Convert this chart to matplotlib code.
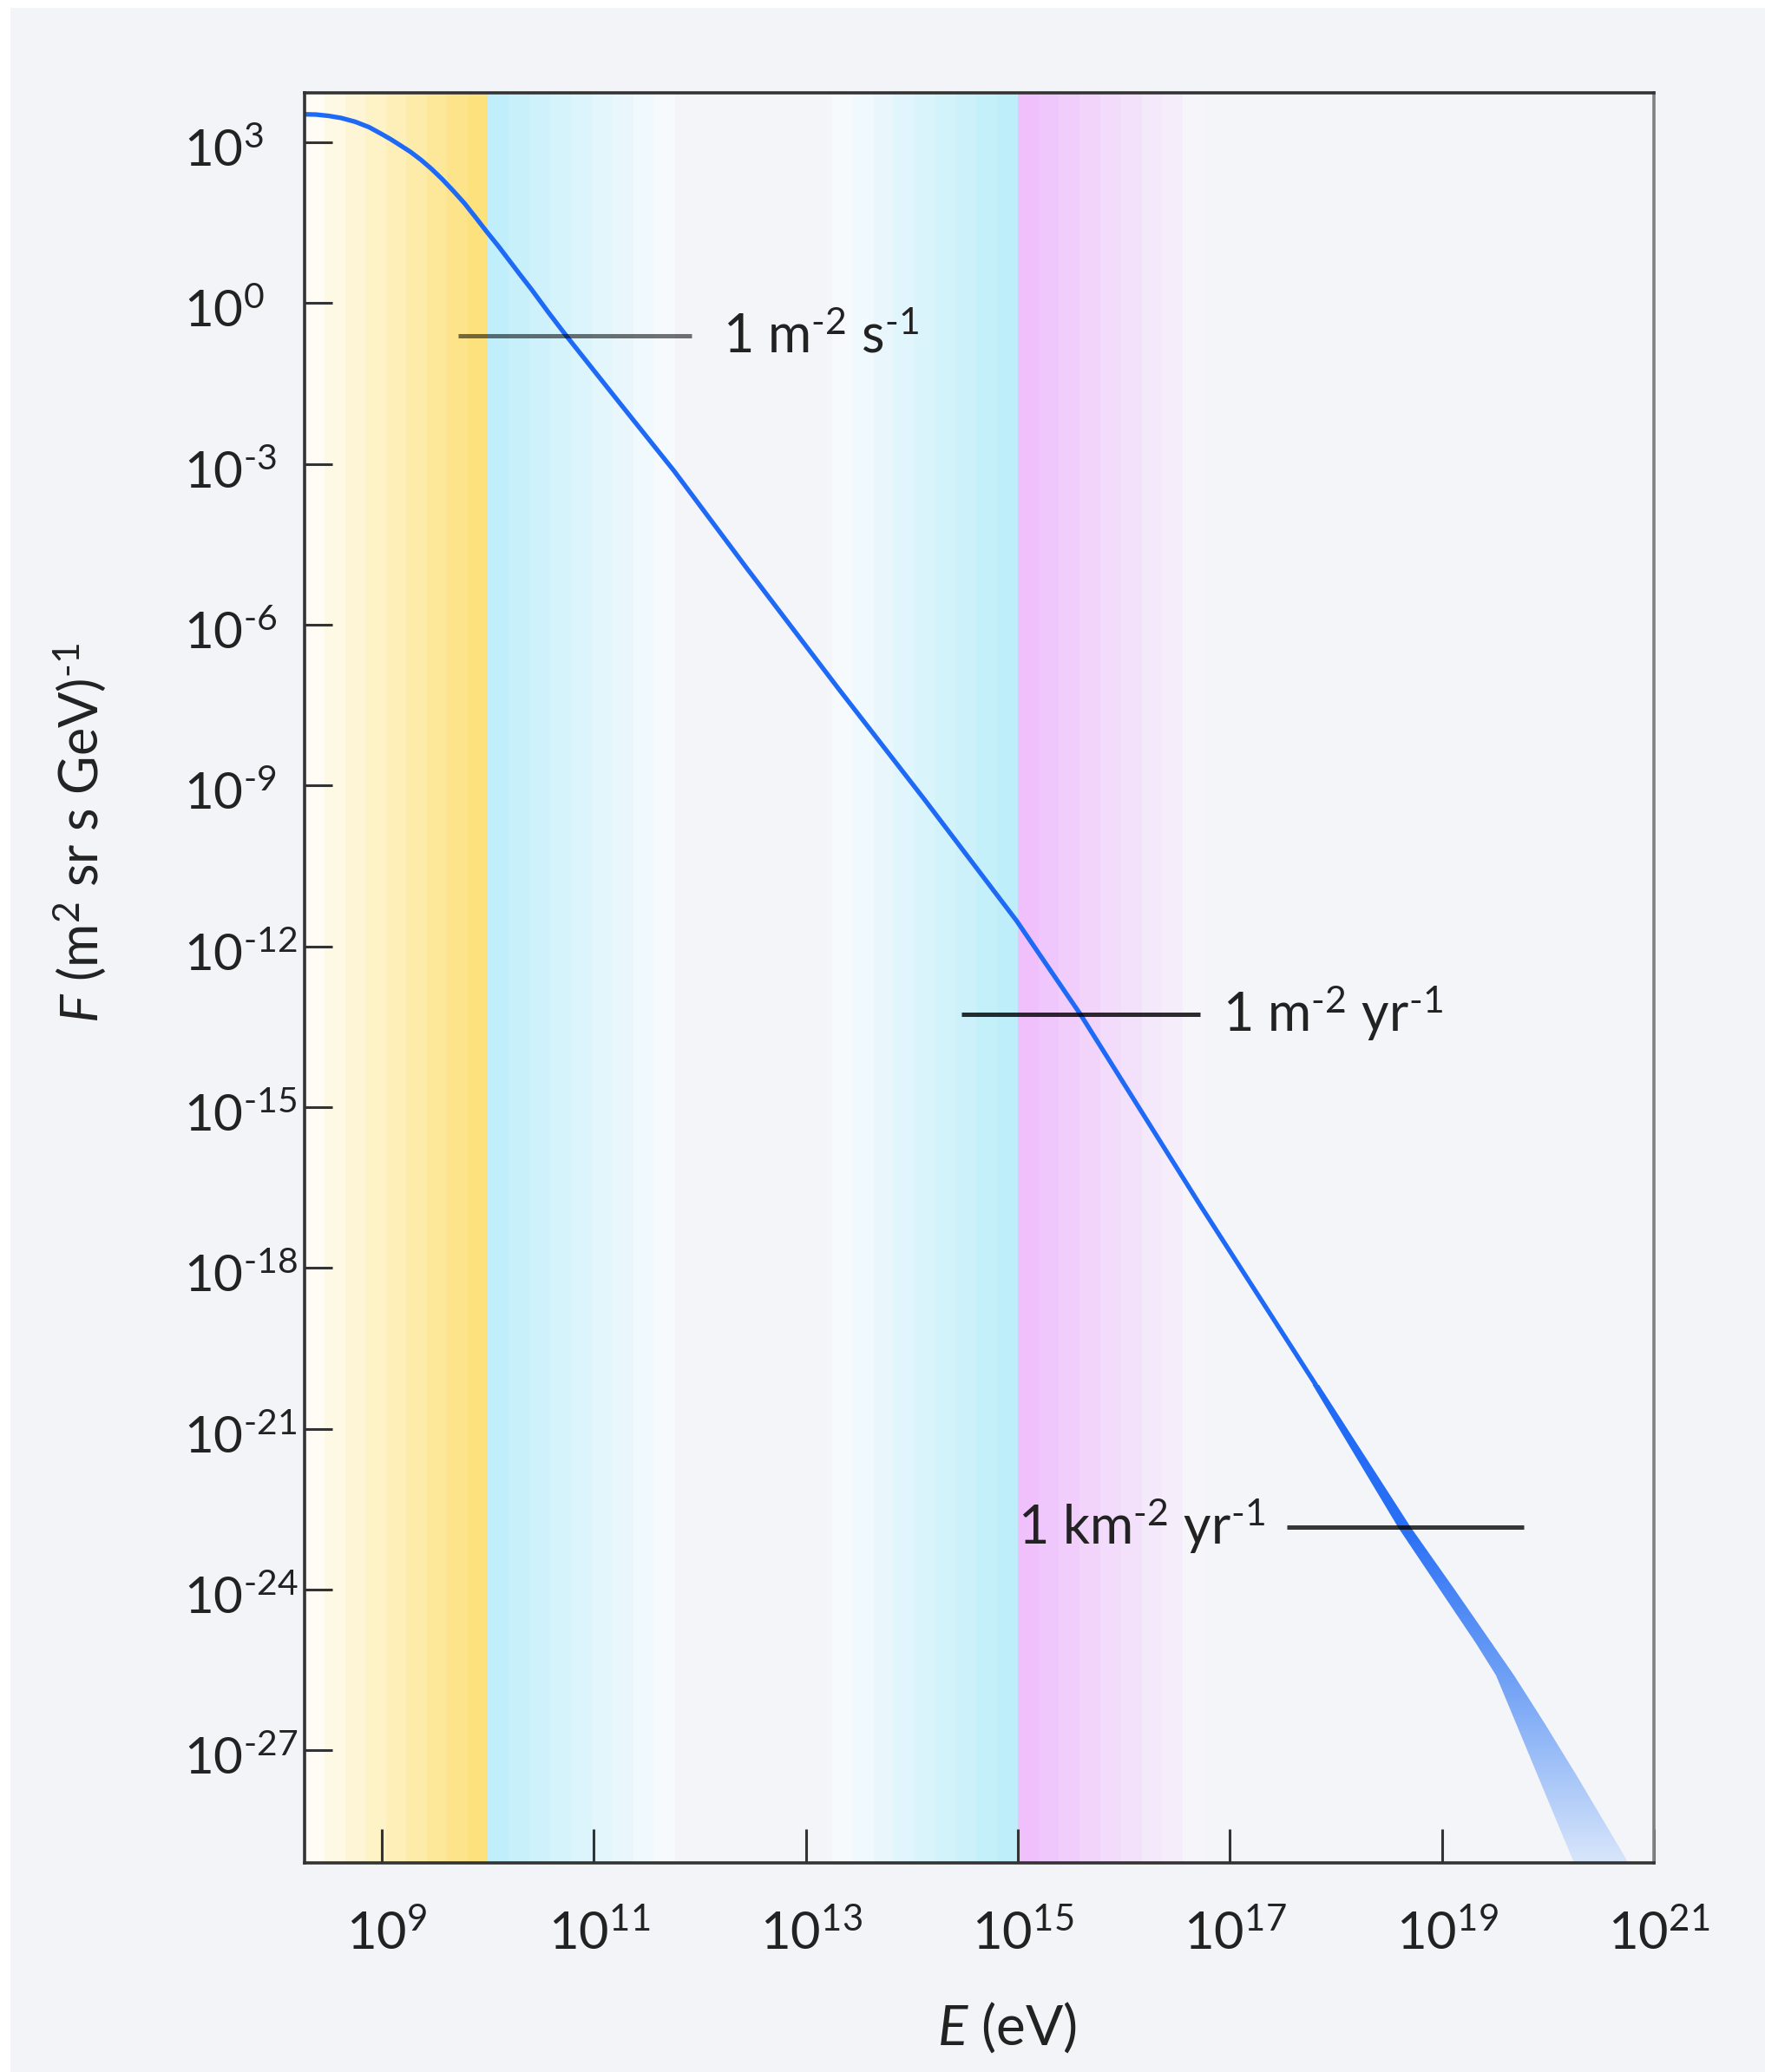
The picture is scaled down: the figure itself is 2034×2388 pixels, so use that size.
import numpy as np
import matplotlib
matplotlib.use("Agg")
import matplotlib.pyplot as plt
from matplotlib.colors import LinearSegmentedColormap, to_rgb
from matplotlib.patches import Polygon, Rectangle
from matplotlib.ticker import NullLocator
from matplotlib.transforms import offset_copy

plt.rcParams['font.family'] = ['Lato', 'DejaVu Sans']
plt.rcParams['mathtext.fontset'] = 'custom'
plt.rcParams['mathtext.rm'] = 'Lato'
plt.rcParams['mathtext.it'] = 'Lato:italic'
plt.rcParams['mathtext.bf'] = 'Lato:bold'

HY = '\u2010'  # short hyphen for the superscripts (mathtext turns '-' into a wide minus)

# cosmic-ray flux spectrum (log10 E in eV, log10 F)
log_E = [8.27, 8.38, 8.5, 8.62, 8.75, 8.88, 9.0, 9.08, 9.16, 9.27, 9.37, 9.47, 9.57,
         9.68, 9.78, 9.88, 9.99, 10.1, 10.2, 10.3, 10.41, 10.57, 10.74,
         11.25, 11.76, 12.44, 13.31, 14.13, 14.99, 15.59, 16.72, 17.81]
log_F = [3.52, 3.515, 3.49, 3.45, 3.38, 3.28, 3.15, 3.06, 2.96, 2.82, 2.67, 2.50, 2.31,
         2.08, 1.86, 1.61, 1.33, 1.06, 0.80, 0.54, 0.26, -0.17, -0.61,
         -1.88, -3.14, -4.94, -7.20, -9.29, -11.53, -13.27, -16.83, -20.18]

# uncertain high-energy tail: flux levels with left / right edge of the band
tail_log_F = [-20.18, -22.85, -24.0, -25.0, -25.6, -26.5, -27.5, -28.5, -29.3]
tail_left_log_E = [17.78, 18.59, 18.98, 19.32, 19.51, 19.70, 19.91, 20.12, 20.29]
tail_right_log_E = [17.84, 18.71, 19.12, 19.47, 19.68, 19.97, 20.28, 20.58, 20.82]

# shaded energy ranges (log10 E) and their end colours
band_ranges = [(8.27, 10.0), (10.0, 11.77), (13.25, 15.0), (15.0, 16.75)]
band_colors = [('#fefcf4', '#fde17c'), ('#c0eefa', '#f7fafd'),
               ('#f7fafd', '#bdeefa'), ('#efc0fc', '#f6f5fa')]

# integral flux reference lines
ref_labels = ['1 m$^{%s2}$ s$^{%s1}$' % (HY, HY),
              '1 m$^{%s2}$ yr$^{%s1}$' % (HY, HY),
              '1 km$^{%s2}$ yr$^{%s1}$' % (HY, HY)]
ref_log_F = [-0.605, -13.27, -22.84]
ref_log_E_span = [(9.72, 11.92), (14.47, 16.72), (17.54, 19.77)]

x_ticks = [9, 11, 13, 15, 17, 19, 21]
y_ticks = [3, 0, -3, -6, -9, -12, -15, -18, -21, -24, -27]

W, H = 2034, 2388
bg = '#f3f4f8'
ink = '#222222'

fig = plt.figure(figsize=(W / 100, H / 100), dpi=100, facecolor='white')
fig.add_artist(Rectangle((12 / W, 0), 1, 1 - 9 / H, transform=fig.transFigure,
                         facecolor=bg, edgecolor='none', zorder=-10))

ax = fig.add_axes([351 / W, 1 - 2147 / H, (1906 - 351) / W, (2147 - 107) / H])
ax.set_facecolor('#f4f5f9')
ax.set_xscale('log')
ax.set_yscale('log')

# stepped colour gradients for the energy regions
n_steps = 9
for (a, b), (c0, c1) in zip(band_ranges, band_colors):
    edges = np.logspace(a, b, n_steps + 1)
    c0, c1 = np.array(to_rgb(c0)), np.array(to_rgb(c1))
    for i in range(n_steps):
        t = i / (n_steps - 1)
        ax.axvspan(edges[i], edges[i + 1], color=c0 + (c1 - c0) * t, lw=0, zorder=0)

# spectrum
ax.plot(10.0 ** np.array(log_E), 10.0 ** np.array(log_F), color='#1e69f5', lw=3.8,
        solid_capstyle='round', solid_joinstyle='round', zorder=3)

# fading band for the tail
tl = 10.0 ** np.array(tail_left_log_E)
tr = 10.0 ** np.array(tail_right_log_E)
tf = 10.0 ** np.array(tail_log_F)
verts = list(zip(tl, tf)) + list(zip(tr[::-1], tf[::-1]))
poly = Polygon(verts, closed=True, facecolor='none', edgecolor='none')
ax.add_patch(poly)
ylo, yhi = -29.1, 3.92


def yfrac(v):
    return (v - ylo) / (yhi - ylo)


top = yfrac(tail_log_F[0])
tail_cmap = LinearSegmentedColormap.from_list(
    'tail', [(0.0, '#d8e6fb'), (yfrac(-25.6) / top, '#6d9ff5'),
             (yfrac(-22.85) / top, '#2a70f6'), (1.0, '#1e69f5')])
grad = np.linspace(0, 1, 512).reshape(-1, 1)
im = ax.imshow(grad, extent=[0, 1, 0, top], transform=ax.transAxes,
               aspect='auto', origin='lower', cmap=tail_cmap, zorder=3)
im.set_clip_path(poly)

# reference lines and labels
ref_alpha = [0.55, 0.82, 0.78]
for (e0, e1), f, a in zip(ref_log_E_span, ref_log_F, ref_alpha):
    ax.plot([10.0 ** e0, 10.0 ** e1], [10.0 ** f, 10.0 ** f], color='black', alpha=a,
            lw=3.6, solid_capstyle='butt', zorder=4)

label_pos = [(12.22, 'left'), (16.93, 'left'), (17.33, 'right')]
text_tr = offset_copy(ax.transData, fig=fig, x=0, y=-20, units='dots')
for lab, f, (xe, ha) in zip(ref_labels, ref_log_F, label_pos):
    ax.text(10.0 ** xe, 10.0 ** f, lab, transform=text_tr, ha=ha, va='baseline',
            fontsize=44, color=ink, zorder=5)

ax.set_xlim(10 ** 8.272, 1e21)
ax.set_ylim(10 ** ylo, 10 ** yhi)

# axes styling
ax.set_xticks(10.0 ** np.array(x_ticks))
ax.set_yticks(10.0 ** np.array(y_ticks))
ax.xaxis.set_minor_locator(NullLocator())
ax.yaxis.set_minor_locator(NullLocator())
ax.tick_params(direction='in', width=2.2, color='#333333',
               labelbottom=False, labelleft=False)
ax.tick_params(axis='x', length=28)
ax.tick_params(axis='y', length=23)
for side in ['left', 'bottom', 'top']:
    ax.spines[side].set_linewidth(2.6)
    ax.spines[side].set_color('#333333')
ax.spines['right'].set_linewidth(2.6)
ax.spines['right'].set_color('#808080')
for s in ax.spines.values():
    s.set_zorder(6)


def sup_label(k):
    exp = str(k).replace('-', HY)
    return '$\\mathregular{10^{%s}}$' % exp


xt_tr = offset_copy(ax.get_xaxis_transform(), fig=fig, x=6, y=-100, units='dots')
for k in x_ticks:
    ax.text(10.0 ** k, 0, sup_label(k), transform=xt_tr,
            ha='center', va='baseline', fontsize=43, color=ink, clip_on=False)

yt_tr = offset_copy(ax.get_yaxis_transform(), fig=fig, x=0, y=-28, units='dots')
for k in y_ticks:
    ax.text(-139 / 1555, 10.0 ** k, sup_label(k), transform=yt_tr,
            ha='left', va='baseline', fontsize=42, color=ink, clip_on=False)

fig.text(92 / W, 1 - 960 / H, '$\\mathit{F}$ (m$^2$ sr s GeV)$^{%s1}$' % HY, rotation=90,
         ha='center', va='center', fontsize=44, color=ink)
fig.text(1160 / W, 1 - 2357 / H, r'$\mathit{E}$ (eV)', ha='center', va='baseline',
         fontsize=46, color=ink)

fig.savefig('out.png', dpi=100, facecolor=fig.get_facecolor())
